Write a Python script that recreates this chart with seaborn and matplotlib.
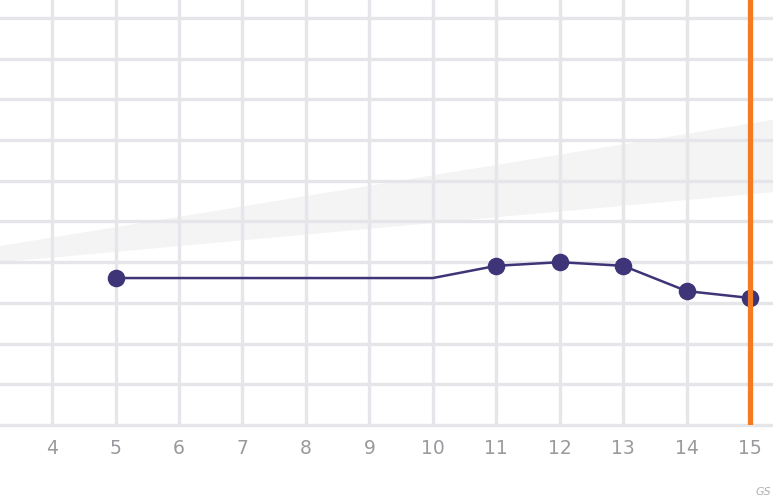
import matplotlib
matplotlib.use("Agg")
import matplotlib.pyplot as plt
import seaborn as sns
import pandas as pd

sns.set_theme(style="white")
plt.rcParams['font.family'] = ['DejaVu Sans']

# Data
x_vals = [5, 10, 11, 12, 13, 14, 15]
y_vals = [3.61, 3.61, 3.91, 4.00, 3.91, 3.29, 3.12]
has_marker = [True, False, True, True, True, True, True]
band_x = [3, 16]
band_lower = [3.97, 5.81]
band_upper = [4.35, 7.66]
x_ticks = [4, 5, 6, 7, 8, 9, 10, 11, 12, 13, 14, 15]
highlight_x = 15

df = pd.DataFrame({"x": x_vals, "y": y_vals, "m": has_marker})
pts = df[df["m"]]

fig = plt.figure(figsize=(7.73, 4.97), dpi=100)
ax = fig.add_axes([0, 72 / 497, 1, 425 / 497])

ax.fill_between(band_x, band_lower, band_upper, color="#f4f4f5", lw=0, zorder=0)

for gx in x_ticks:
    ax.axvline(gx, color="#e6e6ea", lw=2.4, zorder=1)
for gy in range(1, 11):
    ax.axhline(gy, color="#e6e6ea", lw=2.4, zorder=1)
ax.axhline(0, color="#e6e6ea", lw=2.4, zorder=1, clip_on=False)

sns.lineplot(data=df, x="x", y="y", ax=ax, color="#3d3577", lw=1.8, zorder=3)
sns.scatterplot(data=pts, x="x", y="y", ax=ax, color="#3d3577", s=160,
                edgecolor="#3d3577", linewidth=0, zorder=4)

ax.axvline(highlight_x, color="#f47b20", lw=3.8, zorder=5)

ax.set_xlim(3.18, 15.36)
ax.set_ylim(0, 10.44)
ax.set_xticks(x_ticks)
ax.set_xticklabels([str(t) for t in x_ticks])
ax.set_yticks([])
ax.set_xlabel("")
ax.set_ylabel("")
ax.tick_params(axis="x", length=0, pad=10, labelsize=13.5, labelcolor="#9a9a9e")
for s in ax.spines.values():
    s.set_visible(False)

fig.text(756 / 773, 1 - 492 / 497, "GS", fontsize=8, color="#b0b0b0",
         style="italic", ha="left", va="center")

fig.savefig("out.png", dpi=100)
